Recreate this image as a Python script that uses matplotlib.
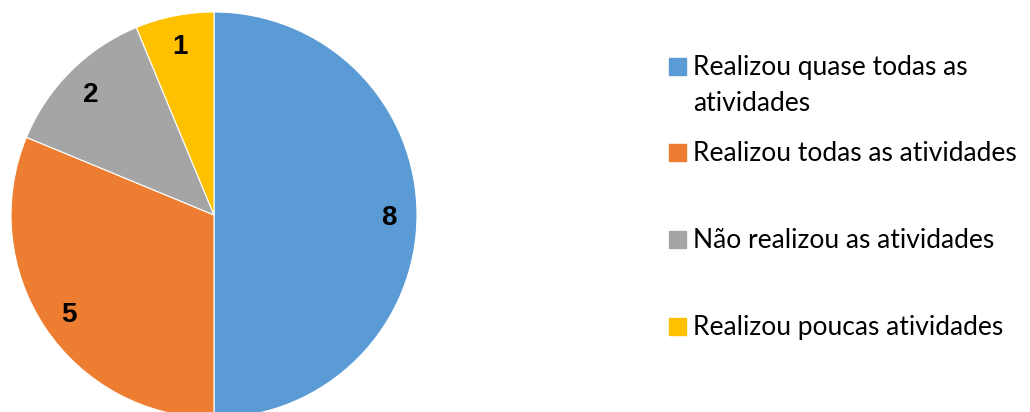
import textwrap
import matplotlib.pyplot as plt
from matplotlib.patches import Rectangle

categories = ["Realizou quase todas as atividades",
              "Realizou todas as atividades",
              "Não realizou as atividades",
              "Realizou poucas atividades"]
values = [8, 5, 2, 1]
colors = ["#5B9BD5", "#ED7D31", "#A5A5A5", "#FFC000"]

W, H = 1030, 412
fig = plt.figure(figsize=(W / 100, H / 100), dpi=100)

# pie axes placed in pixel units: centre (214, 215), radius 203
cx, cy, r = 214, 215, 203
ax = fig.add_axes([(cx - r) / W, (H - cy - r) / H, 2 * r / W, 2 * r / H])
total = sum(values)
wedges, _, autotexts = ax.pie(values, colors=colors, startangle=90, counterclock=False,
                              radius=1, autopct=lambda p: "%d" % round(p * total / 100),
                              pctdistance=0.86,
                              wedgeprops=dict(edgecolor="white", linewidth=0.8))
for t in autotexts:
    t.set_fontfamily("Liberation Sans")
    t.set_fontweight("bold")
    t.set_fontsize(20)
    x, y = t.get_position()
    t.set_position((x, y - 0.015))
ax.set_xlim(-1, 1)
ax.set_ylim(-1, 1)
ax.set_aspect("equal")
ax.axis("off")

# legend drawn by hand; first-line baselines in pixels from the top
baselines = [75, 161, 248, 335]
line_gap = 36
for label, color, yb in zip(categories, colors, baselines):
    fig.patches.append(Rectangle((669 / W, (H - yb) / H), 17 / W, 17 / H,
                                 transform=fig.transFigure, color=color))
    lines = textwrap.wrap(label, 28)
    for i, line in enumerate(lines):
        fig.text(693 / W, (H - yb - i * line_gap) / H, line, family="Lato",
                 fontsize=19, va="baseline", ha="left", color="black")

fig.savefig("out.png", dpi=100)
